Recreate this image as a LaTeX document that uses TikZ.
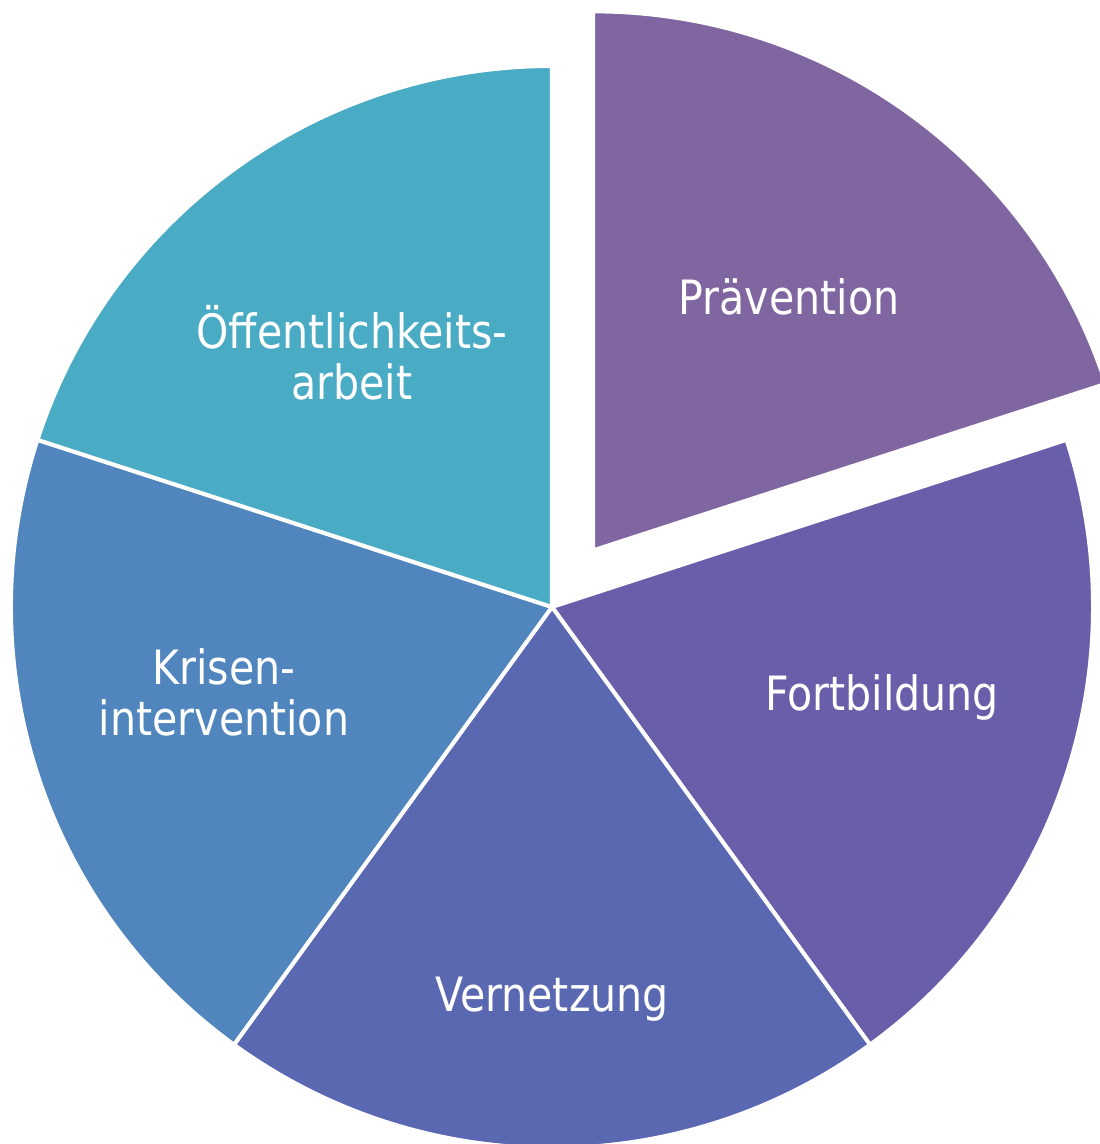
\documentclass[tikz,border=0pt]{standalone}
\usepackage{fontspec}
\setmainfont{DejaVu Sans}[FakeStretch=0.87]
\definecolor{praevcol}{RGB}{128,102,160}
\definecolor{fortcol}{RGB}{105,94,170}
\definecolor{vernetzcol}{RGB}{90,104,178}
\definecolor{krisencol}{RGB}{80,134,189}
\definecolor{oeffcol}{RGB}{74,171,197}

\begin{document}
\begin{tikzpicture}[x=0.2mm, y=0.2mm,
    slice/.style={draw=white, line width=0.8mm},
    lbl/.style={text=white, font=\fontsize{26.9}{29}\selectfont, align=center, inner sep=0pt}]
	\useasboundingbox (-552,-537) rectangle (548,607);
	\filldraw[slice, fill=fortcol] (0,0) -- (18:541) arc[start angle=18, end angle=-54, radius=541] -- cycle;
	\filldraw[slice, fill=vernetzcol] (0,0) -- (-54:541) arc[start angle=-54, end angle=-126, radius=541] -- cycle;
	\filldraw[slice, fill=krisencol] (0,0) -- (-126:541) arc[start angle=-126, end angle=-198, radius=541] -- cycle;
	\filldraw[slice, fill=oeffcol] (0,0) -- (162:541) arc[start angle=162, end angle=90, radius=541] -- cycle;
	\begin{scope}[shift={(54:70)}]
		\filldraw[slice, fill=praevcol] (0,0) -- (90:539) arc[start angle=90, end angle=18, radius=539] -- cycle;
	\end{scope}
    \node[lbl, anchor=base] (praev) at (237,292) {Prävention};
    \node[lbl, anchor=base] (fort) at (330,-103) {Fortbildung};
    \node[lbl, anchor=base] (vernetz) at (0,-404) {Vernetzung};
    \node[lbl] (krisen) at (-328,-85) {Krisen-\\intervention};
    \node[lbl] (oeff) at (-200,254) {Öffentlichkeits-\\arbeit};
\end{tikzpicture}
\end{document}
